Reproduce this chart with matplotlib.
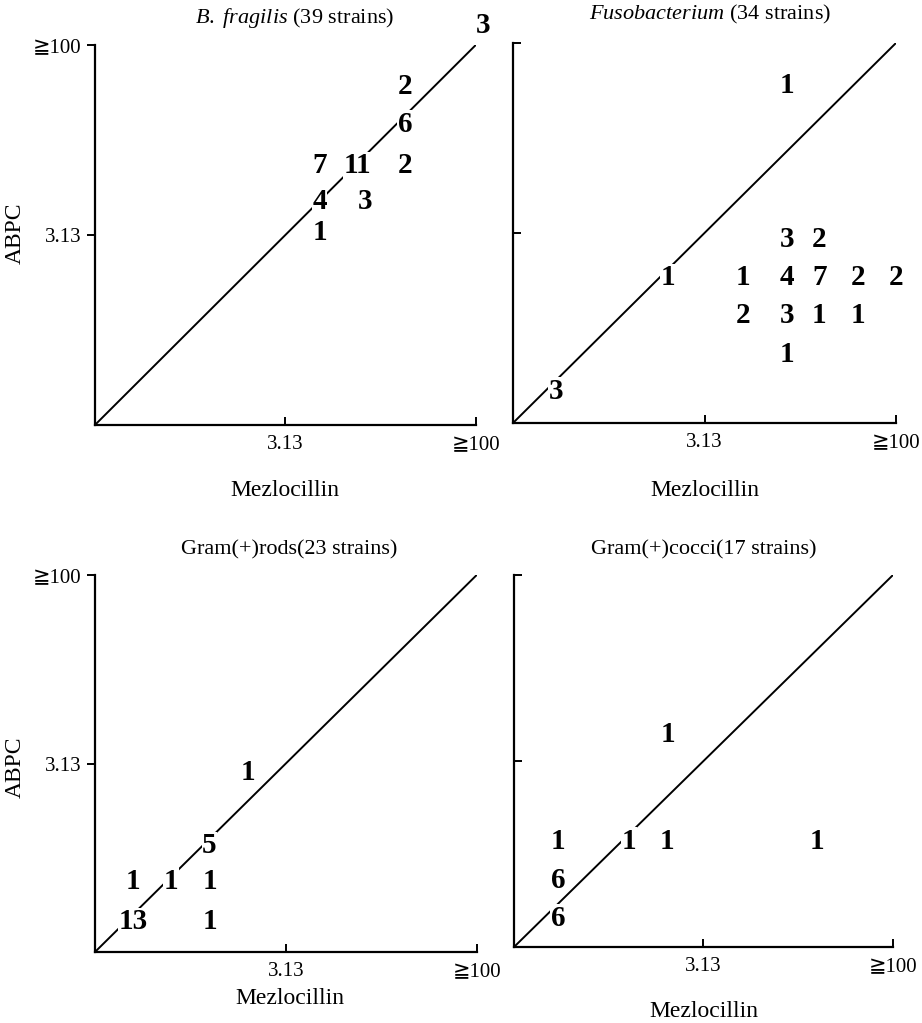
import matplotlib
matplotlib.use('Agg')
import matplotlib.pyplot as plt

plt.rcParams['font.family'] = ['Liberation Serif', 'DejaVu Sans', 'Noto Sans CJK JP']
plt.rcParams['mathtext.fontset'] = 'custom'
plt.rcParams['mathtext.it'] = 'Liberation Serif:italic'
plt.rcParams['mathtext.rm'] = 'Liberation Serif'

# ---- Data (grid steps: 0 = lowest MIC, 5 = 3.13, 10 = >=100) ----
tick_pos = [5, 10]
tick_labels = ['3.13', '≧100']

titles = [r'$\it{B.\ fragilis}$ (39 strains)',
          r'$\it{Fusobacterium}$ (34 strains)',
          'Gram(+)rods(23 strains)',
          'Gram(+)cocci(17 strains)']

bf_x = [10.2, 8.15, 8.15, 5.9, 6.9, 8.15, 5.9, 7.1, 5.9]
bf_y = [10.6, 9.0, 8.0, 6.9, 6.9, 6.9, 5.95, 5.95, 5.15]
bf_n = [3, 2, 6, 7, 11, 2, 4, 3, 1]

fu_x = [7.15, 7.15, 8.0, 4.05, 6.0, 7.15, 8.0, 9.0, 10.0, 6.0, 7.15, 8.0, 9.0, 7.15, 1.12]
fu_y = [8.95, 4.9, 4.9, 3.9, 3.9, 3.9, 3.9, 3.9, 3.9, 2.9, 2.9, 2.9, 2.9, 1.87, 0.92]
fu_n = [1, 3, 2, 1, 1, 4, 7, 2, 2, 2, 3, 1, 1, 1, 3]

gr_x = [4.0, 3.0, 1.0, 2.0, 3.0, 1.0, 3.0]
gr_y = [4.85, 2.9, 1.96, 1.96, 1.96, 0.88, 0.88]
gr_n = [1, 5, 1, 1, 1, 13, 1]

gc_x = [4.06, 1.16, 3.03, 4.04, 8.0, 1.16, 1.16]
gc_y = [5.78, 2.93, 2.93, 2.93, 2.93, 1.88, 0.86]
gc_n = [1, 1, 1, 1, 1, 6, 6]

panels = [(bf_x, bf_y, bf_n), (fu_x, fu_y, fu_n), (gr_x, gr_y, gr_n), (gc_x, gc_y, gc_n)]

# ---- Layout (figure fractions / axes coords) ----
rects = [[0.103, 0.5846, 0.413, 0.3714],
         [0.5564, 0.5865, 0.4154, 0.3715],
         [0.103, 0.0694, 0.414, 0.3685],
         [0.5575, 0.0743, 0.411, 0.3636]]
title_xy = [(0.525, 1.071), (0.514, 1.074), (0.51, 1.066), (0.50, 1.067)]
xlabel_xy = [(0.50, -0.145), (0.50, -0.15), (0.51, -0.095), (0.50, -0.145)]
ylabel_xy = [(-0.181, 0.505), None, (-0.181, 0.49), None]

fig = plt.figure(figsize=(9.22, 10.23), dpi=100)

for k, (rect, (xs, ys, ns)) in enumerate(zip(rects, panels)):
    ax = fig.add_axes(rect)
    ax.set_xlim(0, 10)
    ax.set_ylim(0, 10)
    for s in ['top', 'right']:
        ax.spines[s].set_visible(False)
    for s in ['left', 'bottom']:
        ax.spines[s].set_linewidth(1.6)

    ax.plot([0, 10], [0, 10], color='black', lw=1.4, zorder=1)

    for x, y, n in zip(xs, ys, ns):
        ax.text(x, y, str(n), ha='center', va='center_baseline', fontsize=21,
                fontweight='bold', zorder=3, clip_on=False,
                bbox=dict(boxstyle='square,pad=0.02', facecolor='white', edgecolor='none'))

    ax.set_xticks(tick_pos)
    ax.set_xticklabels(tick_labels, fontsize=15)
    ax.set_yticks(tick_pos)
    ax.tick_params(axis='x', direction='in', length=6, width=1.4, pad=7)
    if k % 2 == 0:
        ax.set_yticklabels(tick_labels, fontsize=15)
        ax.tick_params(axis='y', direction='out', length=6, width=1.4, pad=4)
        ax.set_ylabel('ABPC', fontsize=17)
        ax.yaxis.set_label_coords(*ylabel_xy[k])
    else:
        ax.set_yticklabels([])
        ax.tick_params(axis='y', direction='in', length=6, width=1.4)

    ax.set_xlabel('Mezlocillin', fontsize=17)
    ax.xaxis.set_label_coords(*xlabel_xy[k])
    ax.text(title_xy[k][0], title_xy[k][1], titles[k], transform=ax.transAxes,
            ha='center', va='center', fontsize=16)

plt.savefig('out.png', dpi=100)
